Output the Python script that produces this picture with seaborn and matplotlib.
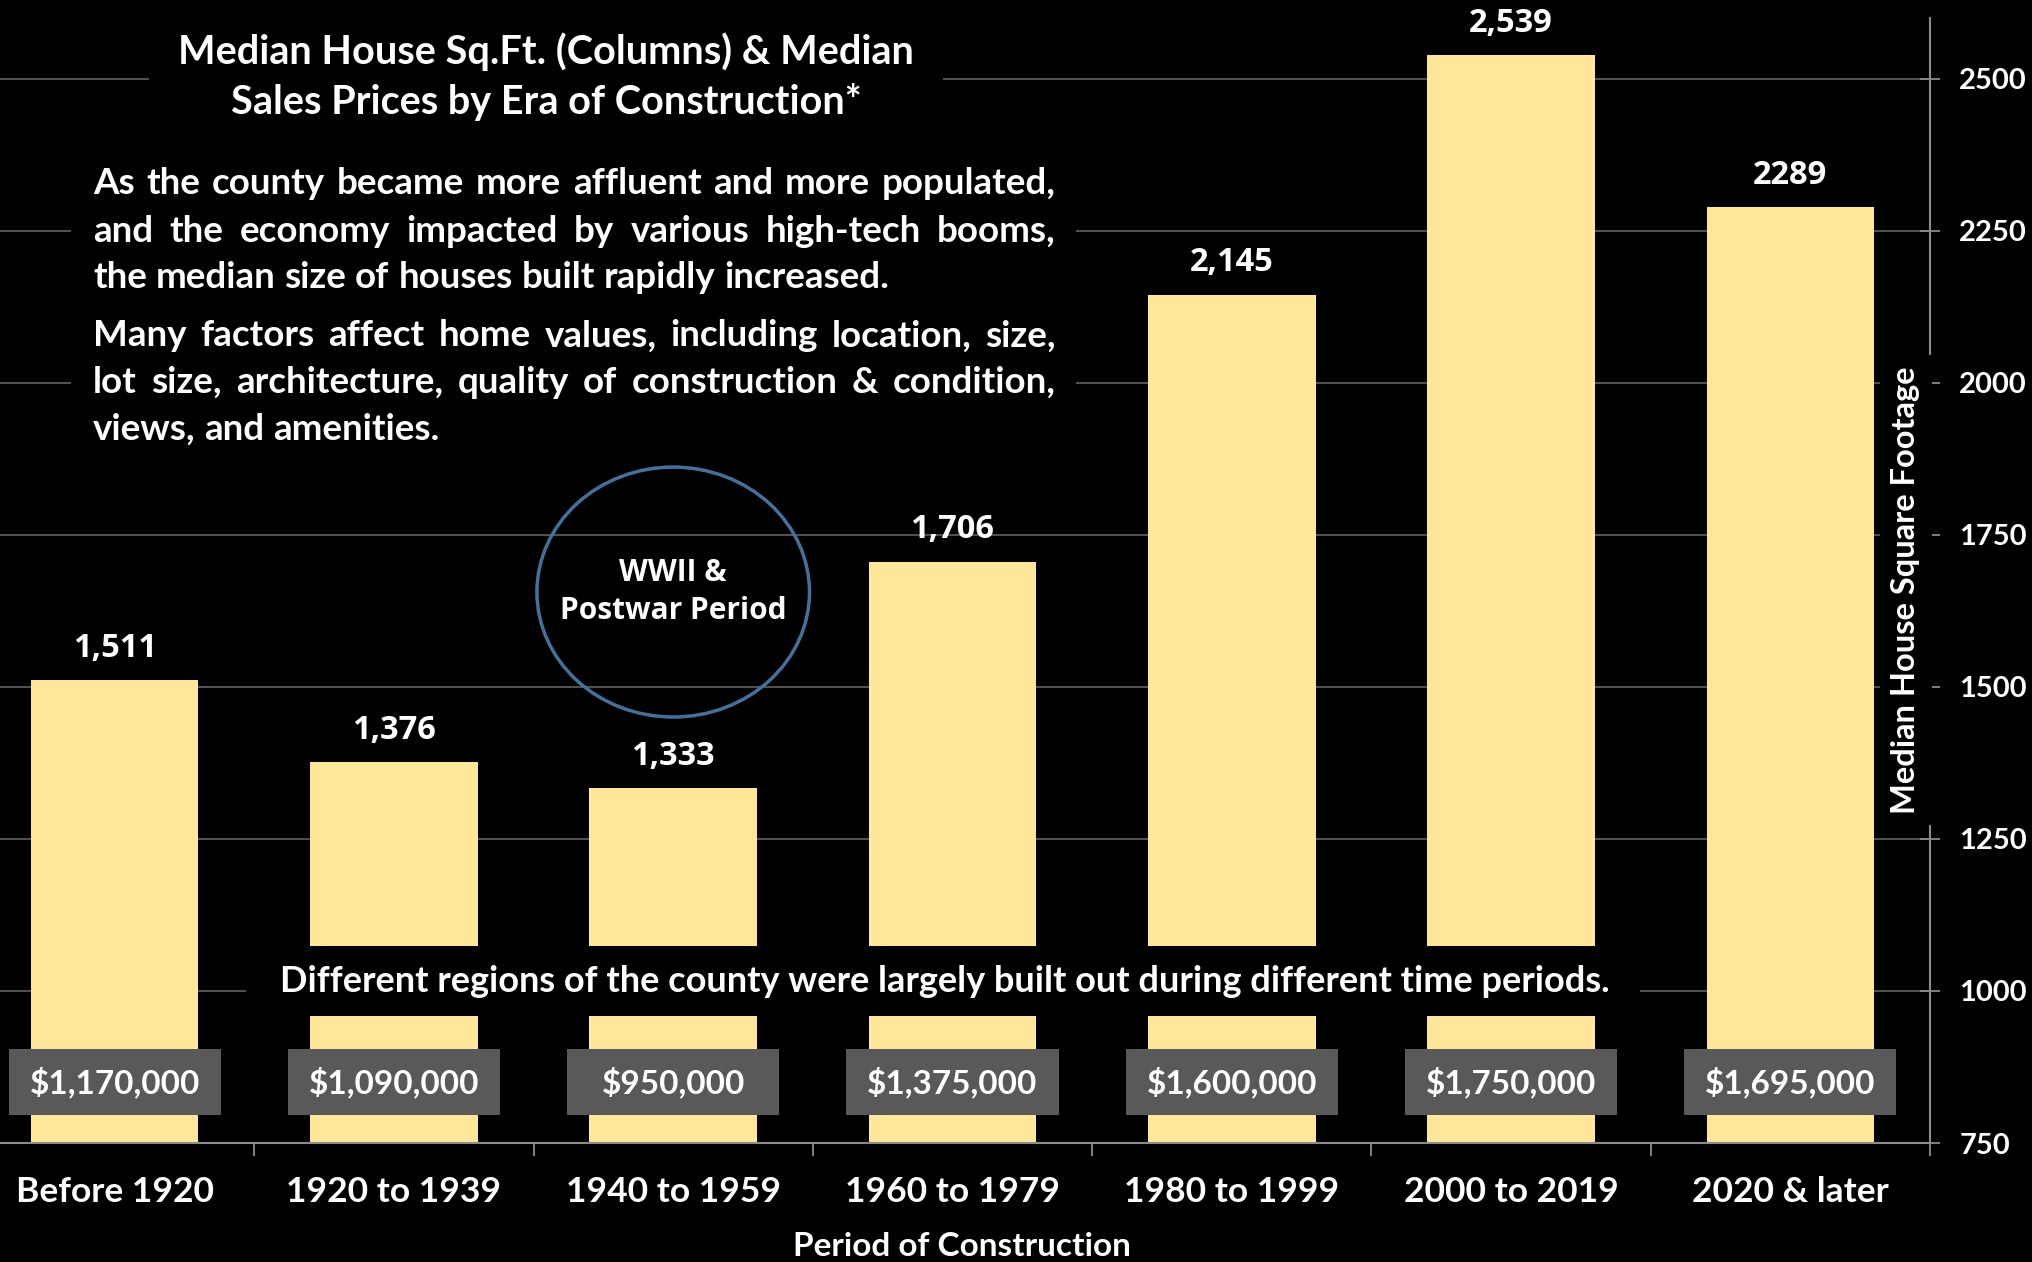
import matplotlib
matplotlib.use("Agg")
import matplotlib.pyplot as plt
import seaborn as sns
from matplotlib.patches import Rectangle, Ellipse

# data
periods = ["Before 1920", "1920 to 1939", "1940 to 1959", "1960 to 1979",
           "1980 to 1999", "2000 to 2019", "2020 & later"]
median_sqft = [1511, 1376, 1333, 1706, 2145, 2539, 2289]
sqft_labels = ["1,511", "1,376", "1,333", "1,706", "2,145", "2,539", "2289"]
median_price = [1170000, 1090000, 950000, 1375000, 1600000, 1750000, 1695000]
y_ticks = [750, 1000, 1250, 1500, 1750, 2000, 2250, 2500]

title_lines = ["Median House Sq.Ft. (Columns) & Median",
               "Sales Prices by Era of Construction*"]
para_1 = ["As the county became more affluent and more populated,",
          "and the economy impacted by various high-tech booms,",
          "the median size of houses built rapidly increased."]
para_2 = ["Many factors affect  home values, including location, size,",
          "lot size, architecture, quality of construction & condition,",
          "views, and amenities."]
note = "Different regions of the county were largely built out during different time periods."

W, H = 2032, 1262
BAR = "#FFE699"
GRID = "#595959"
SPINE = "#8c8c8c"
BOX = "#595959"
MAIN = ["Lato", "DejaVu Sans"]
NUMS = ["Open Sans", "DejaVu Sans"]


def fx(x):
    return x / W


def fy(y):
    return 1 - y / H


sns.set_theme(style="dark")
plt.rcParams["font.family"] = MAIN
plt.rcParams["font.weight"] = "bold"

fig = plt.figure(figsize=(W / 100, H / 100), dpi=100, facecolor="black")
ax = fig.add_axes([fx(-25), fy(1143), 1955 / W, (1143 - 18) / H])
ax.set_facecolor("black")

sns.barplot(x=periods, y=median_sqft, color=BAR, saturation=1, width=0.6,
            linewidth=0, ax=ax, zorder=2)
ax.set_xlim(-0.5, 6.5)
ax.set_ylim(750, 2600)

# grid + spines
ax.set_yticks(y_ticks)
ax.yaxis.grid(True, color=GRID, lw=1.3)
ax.xaxis.grid(False)
ax.set_axisbelow(True)
for s in ["top", "left"]:
    ax.spines[s].set_visible(False)
for s in ["bottom", "right"]:
    ax.spines[s].set_visible(True)
    ax.spines[s].set_color(SPINE)
    ax.spines[s].set_linewidth(1.5)

ax.yaxis.tick_right()
ax.tick_params(axis="y", which="major", colors=SPINE, labelcolor="white",
               direction="inout", length=14, width=1.3, pad=14, labelsize=21, right=True)
ax.set_xticks(range(len(periods)))
ax.set_xticklabels(periods)
ax.tick_params(axis="x", which="major", length=0, pad=24, labelcolor="white", labelsize=25.5)
ax.set_xticks([i + 0.5 for i in range(len(periods))], minor=True)
ax.tick_params(axis="x", which="minor", colors=SPINE, length=9, width=1.3, direction="out", bottom=True)
ax.set_xlabel("")
ax.set_ylabel("")

# value labels on bars
ax.bar_label(ax.containers[0], labels=sqft_labels, padding=11, color="white",
             fontsize=23.5, fontweight="bold", family=NUMS)

# price boxes
for i, p in enumerate(median_price):
    ax.add_patch(Rectangle((i - 0.38, 796), 0.76, 108, facecolor=BOX, edgecolor="none", zorder=5))
    ax.text(i, 850, "${:,}".format(p), ha="center", va="center", color="white",
            fontsize=24, fontweight="bold", zorder=6)

# WWII circle
ax.add_patch(Ellipse((2, 1656), 0.976, 411, fill=False, edgecolor="#41719C", lw=2.5, zorder=4))
ax.text(2, 1656, "WWII &\nPostwar Period", ha="center", va="center", color="white",
        fontsize=21.5, fontweight="bold", family=NUMS, linespacing=1.35, zorder=6)

# black panels behind the texts
for (x0, y0, x1, y1) in [(149, 18, 943, 130), (71, 150, 1076, 455), (246, 946, 1640, 1016)]:
    fig.patches.append(Rectangle((fx(x0), fy(y1)), fx(x1 - x0), (y1 - y0) / H,
                                 transform=fig.transFigure, facecolor="black",
                                 edgecolor="none", zorder=1))

# title
for txt, y in zip(title_lines, [52, 102]):
    fig.text(fx(546), fy(y), txt, ha="center", va="center", color="white",
             fontsize=28.5, fontweight="bold", zorder=3)

# justified paragraph
renderer = fig.canvas.get_renderer()


def justified(lines, ys, x0, x1, size):
    for k, (line, y) in enumerate(zip(lines, ys)):
        words = line.split()
        texts = [fig.text(0, fy(y), w, ha="left", va="center", color="white",
                          fontsize=size, fontweight="bold", zorder=3) for w in words]
        widths = [t.get_window_extent(renderer).width for t in texts]
        sp = fig.text(0, 0, "a b", fontsize=size, fontweight="bold")
        sp2 = fig.text(0, 0, "ab", fontsize=size, fontweight="bold")
        gap = sp.get_window_extent(renderer).width - sp2.get_window_extent(renderer).width
        sp.remove()
        sp2.remove()
        if k < len(lines) - 1:
            gap = max(gap * 0.7, (x1 - x0 - sum(widths)) / (len(words) - 1))
        x = x0
        for t, w in zip(texts, widths):
            t.set_x(fx(x))
            x += w + gap


justified(para_1, [183, 231, 277], 93, 1056, 26.5)
justified(para_2, [336, 382, 429], 93, 1056, 26.5)

# bottom note
fig.text(fx(945), fy(981), note, ha="center", va="center", color="white",
         fontsize=26, fontweight="bold", zorder=3)

# axis titles
fig.text(fx(962), fy(1247), "Period of Construction", ha="center", va="center",
         color="white", fontsize=24, fontweight="bold", zorder=3)
fig.text(fx(1906), fy(590), "Median House Square Footage", ha="center", va="center",
         rotation=90, color="white", fontsize=23.5, fontweight="bold", zorder=3,
         bbox=dict(facecolor="black", edgecolor="none", pad=8))

fig.savefig("out.png", dpi=100, facecolor="black")
